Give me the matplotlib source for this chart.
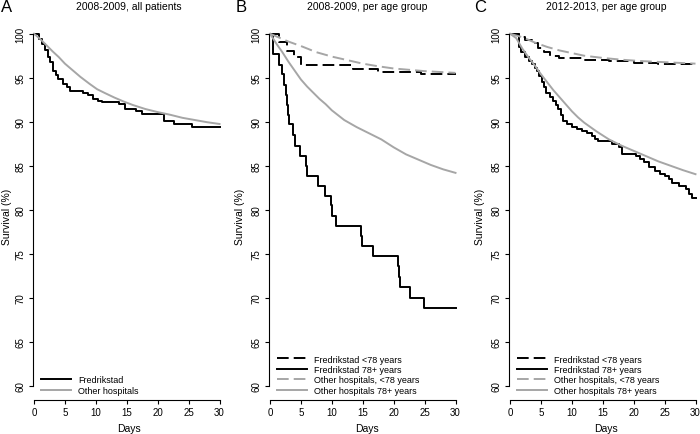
import matplotlib.pyplot as plt

plt.rcParams['font.family'] = ['Liberation Sans', 'DejaVu Sans']

BLACK = '#000000'
GRAY = '#a6a6a6'

# ---- panel A: 2008-2009, all patients
a_fred_t = [0, 0.8, 1.3, 1.8, 2.2, 2.6, 3.1, 3.5, 3.9, 4.75, 5.3, 5.8, 8.0, 8.8, 9.6,
            10.3, 11.0, 13.7, 14.75, 16.5, 17.45, 21.0, 22.6, 25.6, 30]
a_fred_s = [100, 99.4, 98.8, 98.1, 97.4, 96.75, 95.8, 95.3, 94.85, 94.3, 93.9, 93.5, 93.3, 93.0, 92.6,
            92.4, 92.2, 92.0, 91.45, 91.2, 90.9, 90.1, 89.75, 89.4, 89.4]
a_other_t = [0, 1, 2, 3, 4, 5, 6, 7.5, 9, 10.2, 11.5, 13, 14.5, 16, 18, 20, 22, 24, 26, 28, 30]
a_other_s = [100, 99.4, 98.7, 98.0, 97.35, 96.6, 96.0, 95.1, 94.3, 93.7, 93.25, 92.75, 92.3, 91.9,
             91.45, 91.1, 90.8, 90.45, 90.2, 89.95, 89.75]

# ---- panel B: 2008-2009, per age group
b_fred_young_t = [0, 1.5, 2.7, 3.9, 5.0, 13.5, 17.5, 24.5, 30]
b_fred_young_s = [100, 99.1, 98.0, 97.3, 96.5, 96.0, 95.7, 95.4, 95.4]
b_fred_old_t = [0, 0.5, 1.4, 2.0, 2.3, 2.6, 2.8, 2.95, 3.05, 3.8, 4.1, 4.9, 5.8, 6.0, 7.8, 8.9,
                9.8, 10.0, 10.7, 14.7, 14.8, 16.6, 20.7, 20.8, 21.0, 22.7, 24.9, 30]
b_fred_old_s = [100, 97.7, 96.5, 95.4, 94.2, 93.0, 91.9, 90.8, 89.7, 88.5, 87.3, 86.1, 85.0, 83.9,
                82.7, 81.6, 80.5, 79.3, 78.2, 77.0, 75.9, 74.8, 73.6, 72.4, 71.2, 70.0, 68.9, 68.9]
b_other_young_t = [0, 1, 2, 3, 5, 7.5, 10, 12.5, 15, 17.5, 20, 22.5, 25, 27.5, 30]
b_other_young_s = [100, 99.7, 99.4, 99.1, 98.6, 97.9, 97.4, 97.0, 96.6, 96.3, 96.05, 95.9, 95.75,
                   95.65, 95.55]
b_other_old_t = [0, 1, 2, 3, 4, 5, 6, 7, 8, 9, 10, 12, 14, 16, 18, 20, 22, 24, 26, 28, 30]
b_other_old_s = [100, 98.9, 97.9, 96.8, 95.8, 94.8, 94.0, 93.3, 92.6, 92.0, 91.3, 90.2, 89.4, 88.7,
                 88.0, 87.1, 86.3, 85.7, 85.1, 84.6, 84.2]

# ---- panel C: 2012-2013, per age group
c_fred_young_t = [0, 1.5, 2.5, 3.5, 4.5, 5.5, 6.5, 8.0, 12.0, 16.0, 20.0, 24.0, 30]
c_fred_young_s = [100, 99.6, 99.3, 98.9, 98.4, 97.9, 97.5, 97.2, 97.0, 96.9, 96.7, 96.55, 96.55]
c_fred_old_t = [0, 1.4, 1.8, 2.4, 3.0, 3.5, 4.0, 4.3, 4.7, 5.1, 5.5, 5.9, 6.4, 7.0, 7.4, 7.8, 8.2,
                8.6, 9.2, 10.0, 10.8, 11.6, 12.4, 13.2, 13.8, 14.3, 16.5, 17.6, 18.1, 20.3, 21.0,
                21.6, 22.5, 23.5, 24.3, 25.0, 25.7, 26.2, 27.3, 28.4, 28.9, 29.4, 30]
c_fred_old_s = [100, 98.5, 97.9, 97.3, 96.9, 96.6, 96.1, 95.8, 95.2, 94.5, 93.9, 93.3, 92.8, 92.4,
                91.9, 91.4, 90.8, 90.1, 89.7, 89.4, 89.2, 89.0, 88.7, 88.4, 88.0, 87.8, 87.5, 87.1,
                86.3, 86.1, 85.8, 85.4, 84.9, 84.4, 84.1, 83.8, 83.5, 83.1, 82.7, 82.4, 81.8, 81.4,
                81.4]
c_other_young_t = [0, 2, 4, 6, 8, 10, 12, 15, 18, 21, 24, 27, 30]
c_other_young_s = [100, 99.6, 99.0, 98.5, 98.1, 97.8, 97.5, 97.25, 97.05, 96.9, 96.8, 96.7, 96.6]
c_other_old_t = [0, 1, 2, 3, 4, 5, 6, 7, 8, 9, 10, 11, 12, 13, 14, 16, 18, 20, 22, 24, 26, 28, 30]
c_other_old_s = [100, 99.5, 98.3, 97.3, 96.4, 95.4, 94.5, 93.6, 92.8, 92.0, 91.2, 90.5, 89.9, 89.4,
                 88.9, 88.0, 87.3, 86.7, 86.1, 85.5, 85.0, 84.5, 84.05]

x_ticks = [0, 5, 10, 15, 20, 25, 30]
y_ticks = [60, 65, 70, 75, 80, 85, 90, 95, 100]

W, H = 700, 435
fig = plt.figure(figsize=(7, 4.35), dpi=100)

LW = 1.4
DASH = (0, (6, 2.6))


def make_axes(x0):
    ax = fig.add_axes([x0 / W, 1 - 387 / H, 185.5 / W, 352.3 / H])
    ax.set_xlim(0, 30)
    ax.set_ylim(60, 100)
    for s in ['top', 'right']:
        ax.spines[s].set_visible(False)
    ax.spines['bottom'].set_position(('outward', 10))
    ax.spines['left'].set_position(('outward', 1))
    ax.spines['bottom'].set_bounds(0, 30)
    ax.spines['left'].set_bounds(60, 100)
    for s in ['bottom', 'left']:
        ax.spines[s].set_linewidth(0.8)
    ax.set_xticks(x_ticks)
    ax.set_yticks(y_ticks)
    ax.set_yticklabels([str(v) for v in y_ticks], rotation=90, va='center')
    ax.tick_params(length=3, width=0.8, labelsize=7, pad=2)
    return ax


def panel_text(cx, letter, title, lx):
    fig.text(lx / W, 1 - 8 / H, letter, fontsize=12, va='center', ha='left')
    fig.text(cx / W, 1 - 7 / H, title, fontsize=7.5, va='center', ha='center')
    fig.text(cx / W, 1 - 429 / H, 'Days', fontsize=7.5, va='center', ha='center')


# panel A
axA = make_axes(34)
axA.plot(a_fred_t, a_fred_s, color=BLACK, lw=LW, drawstyle='steps-post', clip_on=False,
         label='Fredrikstad')
axA.plot(a_other_t, a_other_s, color=GRAY, lw=LW, clip_on=False, label='Other hospitals')
panel_text(129, 'A', '2008-2009, all patients', 1)
fig.text(7 / W, 1 - 217 / H, 'Survival (%)', fontsize=7.5, rotation=90, va='center', ha='center')
axA.legend(loc='lower left', bbox_to_anchor=(0.02, -0.035), frameon=False, fontsize=6.5,
           handlelength=3.3, handletextpad=0.8, labelspacing=0.15, borderaxespad=0)

# panel B
axB = make_axes(270)
axB.plot(b_fred_young_t, b_fred_young_s, color=BLACK, lw=LW, ls=DASH, drawstyle='steps-post',
         clip_on=False, label='Fredrikstad <78 years')
axB.plot(b_fred_old_t, b_fred_old_s, color=BLACK, lw=LW, drawstyle='steps-post',
         clip_on=False, label='Fredrikstad 78+ years')
axB.plot(b_other_young_t, b_other_young_s, color=GRAY, lw=LW, ls=DASH, clip_on=False,
         label='Other hospitals, <78 years')
axB.plot(b_other_old_t, b_other_old_s, color=GRAY, lw=LW, clip_on=False,
         label='Other hospitals 78+ years')
panel_text(367, 'B', '2008-2009, per age group', 236)
fig.text(240 / W, 1 - 217 / H, 'Survival (%)', fontsize=7.5, rotation=90, va='center', ha='center')
axB.legend(loc='lower left', bbox_to_anchor=(0.02, -0.035), frameon=False, fontsize=6.5,
           handlelength=3.3, handletextpad=0.8, labelspacing=0.15, borderaxespad=0)

# panel C
axC = make_axes(510)
axC.plot(c_fred_young_t, c_fred_young_s, color=BLACK, lw=LW, ls=DASH, drawstyle='steps-post',
         clip_on=False, label='Fredrikstad <78 years')
axC.plot(c_fred_old_t, c_fred_old_s, color=BLACK, lw=LW, drawstyle='steps-post',
         clip_on=False, label='Fredrikstad 78+ years')
axC.plot(c_other_young_t, c_other_young_s, color=GRAY, lw=LW, ls=DASH, clip_on=False,
         label='Other hospitals, <78 years')
axC.plot(c_other_old_t, c_other_old_s, color=GRAY, lw=LW, clip_on=False,
         label='Other hospitals 78+ years')
panel_text(606, 'C', '2012-2013, per age group', 474)
fig.text(480 / W, 1 - 217 / H, 'Survival (%)', fontsize=7.5, rotation=90, va='center', ha='center')
axC.legend(loc='lower left', bbox_to_anchor=(0.02, -0.035), frameon=False, fontsize=6.5,
           handlelength=3.3, handletextpad=0.8, labelspacing=0.15, borderaxespad=0)

fig.savefig('out.png', dpi=100)
